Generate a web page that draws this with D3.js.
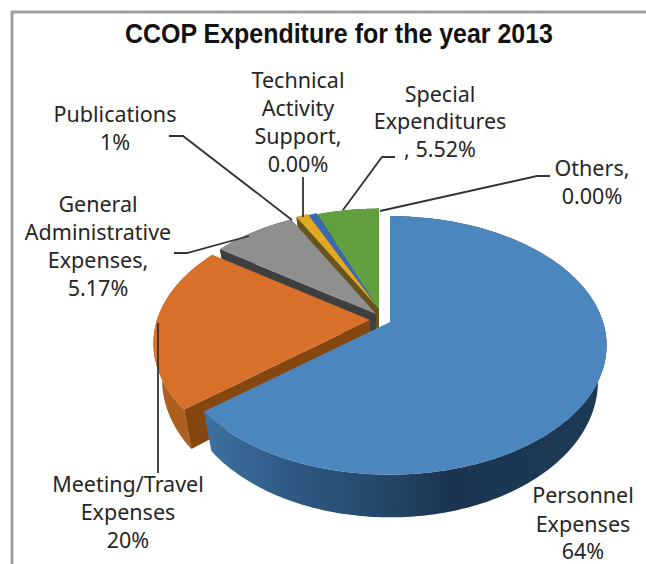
<!DOCTYPE html>
<html lang="en">
<head>
<meta charset="utf-8">
<title>CCOP Expenditure for the year 2013</title>
<script src="https://d3js.org/d3.v7.min.js"></script>
<style>
  html, body { margin: 0; padding: 0; background: #fff; overflow: hidden; }
  text { font-family: "Noto Sans", sans-serif; font-size: 21.5px; fill: #262626; }
</style>
</head>
<body>
<div id="canvas"></div>
<script>
// slice shares as they are drawn in the picture (the printed labels don't add up to 100)
const categories = ["Personnel Expenses", "Meeting/Travel Expenses", "General Administrative Expenses",
                    "Publications", "Technical Activity Support", "Special Expenditures", "Others"]
const shares = [64.0, 20.7, 7.5, 1.1, 0.8, 5.8, 0]
const labelLines = [
  ["Personnel", "Expenses", "64%"],
  ["Meeting/Travel", "Expenses", "20%"],
  ["General", "Administrative", "Expenses,", "5.17%"],
  ["Publications", "1%"],
  ["Technical", "Activity", "Support,", "0.00%"],
  ["Special", "Expenditures", ", 5.52%"],
  ["Others,", "0.00%"]
]

const topColors  = ["#4b86bf", "#d9702a", "#8f8f8f", "#e3a925", "#3a69b2", "#62a03f", "#62a03f"]
const sideColors = ["url(#blueSide)", "#ad5f1f", "#555", "#8a6a1a", "#2b4a7c", "#47702c", "#47702c"]
const wallColors = ["#2c5680", "#85470f", "#3f3f3f", "#66551c", "#27406b", "#3a4a20", "#3a4a20"]

// label placement: centre x + one baseline per line
const labelX = [583, 128, 98, 115, 298, 440, 592]
const labelY = [[503, 532, 559], [492, 520, 548], [212, 240, 268, 296], [122, 150],
                [88, 116, 144, 172], [102, 129, 157], [176, 204]]
const leaders = [
  null,
  [[158, 323], [158, 473]],
  [[249, 236], [187, 253], [174, 253]],
  [[292, 220], [183, 136], [169, 136]],
  [[303, 217], [303, 177]],
  [[343, 210], [382, 157], [395, 157]],
  [[380, 211], [537, 176], [550, 176]]
]

const width = 646
const height = 564

// tilted disc: perspective squeeze k, radii, wall height, narrowing of the lower rim
const k = 0.181, rx = 213, ry = 125, depth = 35, lowerScale = 0.96
// apex of each slice and its radius (the pie is exploded)
const apex = [[390, 322], [370, 320], [376, 314], [379, 309], [379, 309], [379, 309], [379, 309]]
const radius = [1, 1, 0.99, 0.96, 0.95, 0.94, 0.94]

const svg = d3.select("#canvas").append("svg")
  .attr("width", width)
  .attr("height", height)

const grad = svg.append("defs").append("linearGradient")
  .attr("id", "blueSide")
  .attr("gradientUnits", "userSpaceOnUse")
  .attr("x1", 205).attr("x2", 610).attr("y1", 0).attr("y2", 0)
grad.selectAll("stop")
  .data([[0, "#3f719f"], [0.2, "#2f5a85"], [0.45, "#234768"], [0.6, "#1b3550"], [1, "#1d3a56"]])
  .join("stop")
  .attr("offset", d => d[0])
  .attr("stop-color", d => d[1])

svg.append("path")
  .attr("d", d3.line()([[12, height], [12, 12], [width, 12]]))
  .attr("fill", "none")
  .attr("stroke", "#a0a0a0")
  .attr("stroke-width", 3)

svg.append("text")
  .attr("x", 339).attr("y", 43)
  .attr("text-anchor", "middle")
  .attr("textLength", 428)
  .attr("lengthAdjust", "spacingAndGlyphs")
  .style("font-family", "'Liberation Sans', Arial, sans-serif")
  .style("font-weight", "bold")
  .style("font-size", "28px")
  .style("fill", "#111")
  .text("CCOP Expenditure for the year 2013")

const pie = d3.pie().sort(null).value(d => d)
const arcs = pie(shares)

// project a polar point on the disc to the screen
function project(i, angle, r, drop) {
  const u = r * Math.sin(angle), v = -r * Math.cos(angle)
  const w = 1 / (1 - k * v)
  if (drop) return [apex[i][0] + rx * u * w * lowerScale, apex[i][1] + ry * v * w + depth * w]
  return [apex[i][0] + rx * u * w, apex[i][1] + ry * v * w]
}
function rim(i, a0, a1, drop) {
  const n = Math.max(2, Math.ceil((a1 - a0) * 60))
  return d3.range(n + 1).map(j => project(i, a0 + (a1 - a0) * j / n, radius[i], drop))
}

const line = d3.line()
const slices = svg.append("g")

// back to front
const order = [6, 5, 4, 3, 2, 1, 0]
order.forEach(i => {
  const a = arcs[i]
  if (a.endAngle - a.startAngle <= 0) return
  const g = slices.append("g").attr("class", "slice").datum(categories[i])
  const top = rim(i, a.startAngle, a.endAngle, false)
  const low = rim(i, a.startAngle, a.endAngle, true)
  // outer wall
  g.append("path")
    .attr("d", line(top.concat(low.slice().reverse())) + "Z")
    .attr("fill", sideColors[i])
  // cut wall along the start edge
  const c0 = project(i, 0, 0, false), c1 = project(i, 0, 0, true)
  const e0 = project(i, a.startAngle, radius[i], false), e1 = project(i, a.startAngle, radius[i], true)
  g.append("path")
    .attr("d", line([c0, e0, e1, c1]) + "Z")
    .attr("fill", wallColors[i])
  // top face
  g.append("path")
    .attr("d", line([c0].concat(top)) + "Z")
    .attr("fill", topColors[i])
})

svg.append("g").selectAll("path")
  .data(leaders.filter(d => d))
  .join("path")
  .attr("d", d => line(d))
  .attr("fill", "none")
  .attr("stroke", "#333")
  .attr("stroke-width", 1.8)

labelLines.forEach((lines, i) => {
  svg.append("text")
    .attr("text-anchor", "middle")
    .selectAll("tspan")
    .data(lines)
    .join("tspan")
    .attr("x", labelX[i])
    .attr("y", (d, j) => labelY[i][j])
    .text(d => d)
})
</script>
</body>
</html>
